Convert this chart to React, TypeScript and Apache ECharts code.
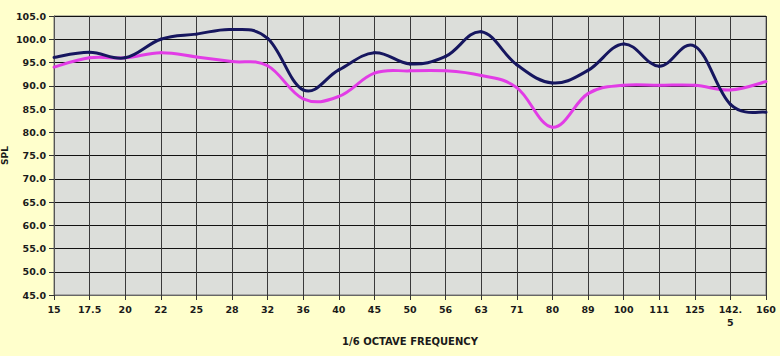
import React, { useEffect, useRef } from "react";
import * as echarts from "echarts";

const categories = ["15", "17.5", "20", "22", "25", "28", "32", "36", "40", "45", "50", "56", "63", "71", "80", "89", "100", "111", "125", "142.5", "160"];
const seriesNavy = [96.1, 97.2, 96.0, 100.0, 101.1, 102.1, 100.2, 89.1, 93.4, 97.1, 94.7, 96.3, 101.6, 94.5, 90.6, 93.3, 99.0, 94.2, 98.5, 86.0, 84.3];
const seriesMagenta = [94.0, 96.0, 96.0, 97.1, 96.2, 95.2, 94.3, 87.2, 87.7, 92.7, 93.2, 93.2, 92.2, 89.6, 81.1, 88.3, 90.1, 90.1, 90.1, 89.1, 90.9];
const yMin = 45;
const yMax = 105;
const yStep = 5;

function smoothSeries(name: string, values: number[], color: string, z: number) {
  const n = values.length;
  const tension = 0.19;
  return {
    name,
    type: "custom",
    coordinateSystem: "cartesian2d",
    z,
    data: values.map((v, i) => [i, v]),
    encode: { x: 0, y: 1 },
    renderItem: (params: any, api: any) => {
      const i = params.dataIndex;
      if (i >= n - 1) return null;
      const pt = (k: number) => {
        const c = Math.max(0, Math.min(n - 1, k));
        return api.coord([c, values[c]]);
      };
      const p0 = pt(i - 1);
      const p1 = pt(i);
      const p2 = pt(i + 1);
      const p3 = pt(i + 2);
      return {
        type: "bezierCurve",
        shape: {
          x1: p1[0],
          y1: p1[1],
          x2: p2[0],
          y2: p2[1],
          cpx1: p1[0] + (p2[0] - p0[0]) * tension,
          cpy1: p1[1] + (p2[1] - p0[1]) * tension,
          cpx2: p2[0] - (p3[0] - p1[0]) * tension,
          cpy2: p2[1] - (p3[1] - p1[1]) * tension,
        },
        style: { stroke: color, lineWidth: 3, fill: null, lineCap: "round" },
      };
    },
  };
}

export default function App() {
  const ref = useRef<HTMLDivElement>(null);
  useEffect(() => {
    if (!ref.current) return;
    const chart = echarts.init(ref.current, undefined, { renderer: "svg" });
    const labelFont = { fontFamily: "DejaVu Sans", fontWeight: "bold" as const, fontSize: 9.5, color: "#1a1a1a" };
    chart.setOption({
      animation: false,
      backgroundColor: "#FFFFCC",
      grid: {
        left: 54,
        right: 14,
        top: 16,
        bottom: 61,
        containLabel: false,
        outerBoundsMode: "none",
        show: true,
        backgroundColor: "#DCDEDA",
        borderColor: "#777777",
        borderWidth: 1,
      },
      xAxis: {
        type: "category",
        data: categories,
        boundaryGap: false,
        name: "1/6 OCTAVE FREQUENCY",
        nameLocation: "middle",
        nameGap: 41,
        nameMoveOverlap: false,
        nameTextStyle: { ...labelFont, fontSize: 10 },
        axisLine: { lineStyle: { color: "#666666", width: 1 } },
        axisTick: { show: true, length: 5, lineStyle: { color: "#333333" } },
        axisLabel: {
          ...labelFont,
          margin: 8,
          interval: 0,
          lineHeight: 13,
          formatter: (v: string) => (v === "142.5" ? "142.\n5" : v),
        },
        splitLine: { show: true, lineStyle: { color: "#3a3a3a", width: 1 } },
      },
      yAxis: {
        type: "value",
        min: yMin,
        max: yMax,
        interval: yStep,
        name: "SPL",
        nameLocation: "middle",
        nameGap: 45,
        nameMoveOverlap: false,
        nameRotate: 90,
        nameTextStyle: { ...labelFont, fontSize: 9 },
        axisLine: { show: true, lineStyle: { color: "#555555", width: 1 } },
        axisTick: { show: true, length: 5, lineStyle: { color: "#333333" } },
        axisLabel: { ...labelFont, margin: 8, formatter: (v: number) => v.toFixed(1) },
        splitLine: { show: true, lineStyle: { color: "#111111", width: 1 } },
      },
      series: [
        smoothSeries("Series 2", seriesMagenta, "#E23CE6", 2),
        smoothSeries("Series 1", seriesNavy, "#16165F", 3),
      ],
    });
    return () => chart.dispose();
  }, []);
  return <div ref={ref} style={{ width: 780, height: 356, position: "fixed", left: 0, top: 0 }} />;
}
